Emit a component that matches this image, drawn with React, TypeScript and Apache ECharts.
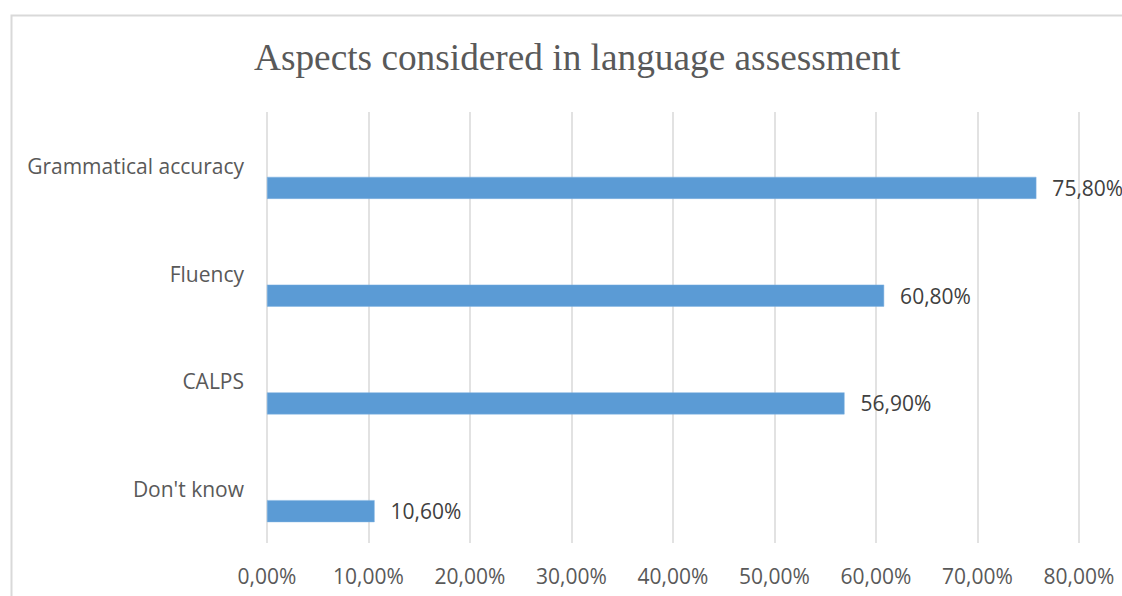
import React, { useEffect, useRef } from "react";
import * as echarts from "echarts";

const titleText = "Aspects considered in language assessment";
const categories = ["Grammatical accuracy", "Fluency", "CALPS", "Don't know"];
const values = [75.8, 60.8, 56.9, 10.6];
const axisMin = 0;
const axisMax = 80;
const axisInterval = 10;

const fmt = (v: number) => v.toFixed(2).replace(".", ",") + "%";

export default function App() {
  const ref = useRef<HTMLDivElement>(null);
  useEffect(() => {
    document.body.style.margin = "0";
    const chart = echarts.init(ref.current!, null, { renderer: "svg" });
    const font = "'Open Sans', 'Noto Sans', sans-serif";
    chart.setOption({
      animation: false,
      backgroundColor: "#ffffff",
      title: {
        text: titleText,
        left: 249,
        top: 34,
        textStyle: {
          fontFamily: "'Liberation Serif', 'Times New Roman', serif",
          fontSize: 37.3,
          fontWeight: "normal",
          color: "#595959",
        },
      },
      graphic: [
        {
          type: "rect",
          shape: { x: 11.5, y: 15.5, width: 1300, height: 800 },
          style: { fill: "none", stroke: "#d9d9d9", lineWidth: 2 },
          silent: true,
          z: -1,
        },
      ],
      grid: { left: 267, right: 43, top: 112, bottom: 53, containLabel: false },
      xAxis: {
        type: "value",
        min: axisMin,
        max: axisMax,
        interval: axisInterval,
        axisLine: { show: false },
        axisTick: { show: false },
        splitLine: { show: true, lineStyle: { color: "#d9d9d9", width: 1.5 } },
        axisLabel: {
          formatter: fmt,
          fontFamily: font,
          fontSize: 21,
          color: "#595959",
          margin: 22,
        },
      },
      yAxis: {
        type: "category",
        data: categories,
        inverse: true,
        axisLine: { show: false },
        axisTick: { show: false },
        splitLine: { show: false },
        axisLabel: {
          fontFamily: font,
          fontSize: 21,
          color: "#595959",
          margin: 23,
        },
      },
      series: [
        {
          type: "bar",
          name: "spacer",
          data: categories.map(() => null),
          barWidth: 22,
          barGap: "100%",
        },
        {
          type: "bar",
          name: "Aspects",
          data: values,
          barWidth: 22,
          barGap: "100%",
          itemStyle: { color: "#5b9bd5", borderColor: "#7fb0e0", borderWidth: 0.5 },
          label: {
            show: true,
            position: "right",
            distance: 16,
            formatter: (p: any) => fmt(p.value),
            fontFamily: font,
            fontSize: 21,
            color: "#404040",
          },
        },
      ],
    });
    return () => chart.dispose();
  }, []);
  return <div ref={ref} style={{ width: 1122, height: 596 }} />;
}
